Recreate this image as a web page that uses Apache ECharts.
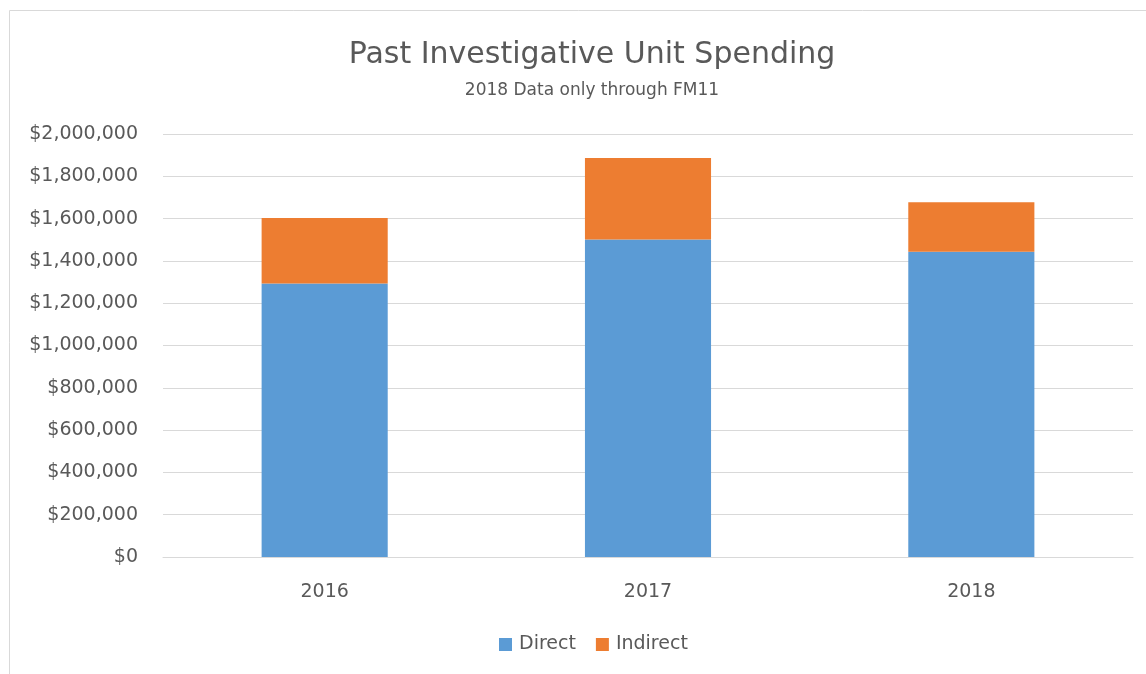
<!DOCTYPE html>
<html>
<head>
<meta charset="utf-8">
<script src="https://cdn.jsdelivr.net/npm/echarts@6/dist/echarts.min.js"></script>
<style>
  html, body { margin: 0; padding: 0; background: #fff; }
  #chart { width: 1146px; height: 674px; }
</style>
</head>
<body>
<div id="chart"></div>
<script>
const categories = ['2016', '2017', '2018']
const direct = [1293000, 1501000, 1443000]
const indirect = [310000, 386000, 234000]

const textColor = '#595959'
const fontFamily = '"DejaVu Sans", sans-serif'

const chart = echarts.init(document.getElementById('chart'))

const fmt = v => '$' + v.toLocaleString('en-US')

chart.setOption({
  animation: false,
  textStyle: { fontFamily: fontFamily },
  graphic: [{
    type: 'rect',
    shape: { x: 9.5, y: 10.5, width: 1150, height: 680 },
    style: { fill: 'none', stroke: '#d9d9d9', lineWidth: 1 },
    silent: true
  }],
  title: {
    text: 'Past Investigative Unit Spending',
    subtext: '2018 Data only through FM11',
    left: 587,
    textAlign: 'center',
    top: 35,
    itemGap: 12,
    textStyle: { color: textColor, fontSize: 30, fontWeight: 'normal', fontFamily: fontFamily },
    subtextStyle: { color: textColor, fontSize: 17, fontFamily: fontFamily }
  },
  legend: {
    top: 630,
    left: 494,
    itemWidth: 13,
    itemHeight: 13,
    itemGap: 20,
    icon: 'rect',
    textStyle: { color: textColor, fontSize: 19, fontFamily: fontFamily, padding: [0, 0, 0, 2] },
    data: ['Direct', 'Indirect']
  },
  grid: {
    left: 163,
    right: 13,
    top: 134,
    bottom: 117
  },
  xAxis: {
    type: 'category',
    data: categories,
    axisLine: { lineStyle: { color: '#d9d9d9' } },
    axisTick: { show: false },
    axisLabel: { color: textColor, fontSize: 19, margin: 26 }
  },
  yAxis: {
    type: 'value',
    min: 0,
    max: 2000000,
    interval: 200000,
    axisLine: { show: false },
    axisTick: { show: false },
    splitLine: { lineStyle: { color: '#d9d9d9' } },
    axisLabel: { color: textColor, fontSize: 19, margin: 25, formatter: fmt }
  },
  series: [
    {
      name: 'Direct',
      type: 'bar',
      stack: 'total',
      barWidth: '39%',
      itemStyle: { color: '#5b9bd5' },
      data: direct
    },
    {
      name: 'Indirect',
      type: 'bar',
      stack: 'total',
      barWidth: '39%',
      itemStyle: { color: '#ed7d31' },
      data: indirect
    }
  ]
})

window.addEventListener('resize', () => {
  chart && chart.resize()
})
</script>
</body>
</html>
